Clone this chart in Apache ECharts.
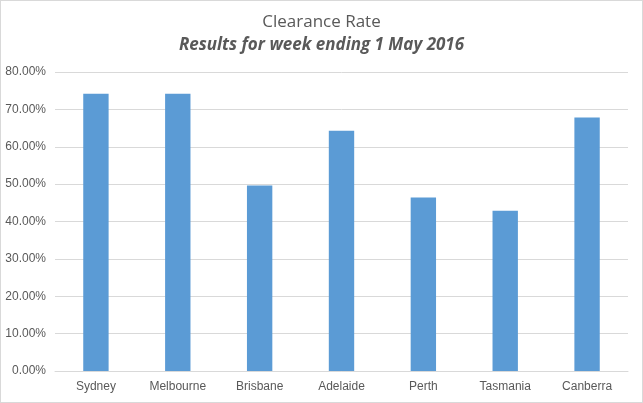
<!DOCTYPE html>
<html>
<head>
<meta charset="utf-8">
<script src="https://cdn.jsdelivr.net/npm/echarts@6/dist/echarts.min.js"></script>
<style>
html,body{margin:0;padding:0;background:#fff;}
#c{width:641px;height:401px;border:1px solid #d9d9d9;}
</style>
</head>
<body>
<div id="c"></div>
<script>
const categories = ["Sydney","Melbourne","Brisbane","Adelaide","Perth","Tasmania","Canberra"];
const clearanceRate = [0.742, 0.742, 0.496, 0.643, 0.464, 0.429, 0.678];
const titleText = "Clearance Rate";
const subtitleText = "Results for week ending 1 May 2016";

const chart = echarts.init(document.getElementById('c'));
chart.setOption({
  animation: false,
  title: {
    text: titleText,
    subtext: subtitleText,
    left: 'center',
    top: 8,
    itemGap: 6,
    textStyle: {fontFamily: 'Open Sans', fontWeight: 'normal', fontSize: 17, color: '#595959'},
    subtextStyle: {fontFamily: 'Open Sans', fontWeight: 'bold', fontStyle: 'italic', fontSize: 17, color: '#595959'}
  },
  grid: {left: 54, right: 14, top: 71, bottom: 31, containLabel: false},
  xAxis: {
    type: 'category',
    data: categories,
    axisLine: {lineStyle: {color: '#d9d9d9'}},
    axisTick: {show: false},
    axisLabel: {color: '#595959', fontSize: 12, fontFamily: 'Liberation Sans', margin: 10}
  },
  yAxis: {
    type: 'value',
    min: 0, max: 0.8, interval: 0.1,
    axisLine: {show: false},
    axisTick: {show: false},
    splitLine: {lineStyle: {color: '#d9d9d9'}},
    axisLabel: {color: '#595959', fontSize: 12, fontFamily: 'Liberation Sans', margin: 9,
      formatter: v => (v*100).toFixed(2) + '%'}
  },
  series: [{
    type: 'bar',
    data: clearanceRate,
    barWidth: '31%',
    itemStyle: {color: '#5b9bd5'}
  }]
});
</script>
</body>
</html>
